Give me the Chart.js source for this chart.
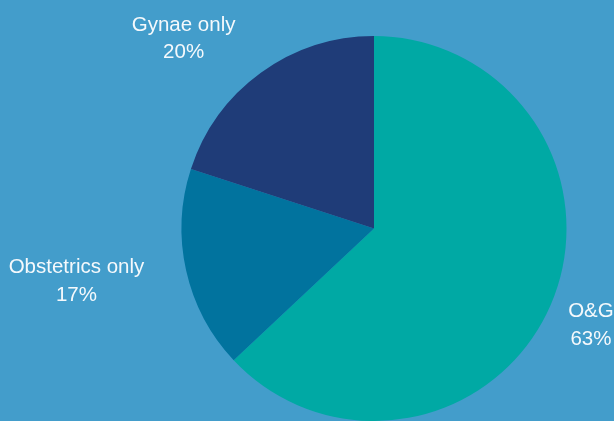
<!DOCTYPE html>
<html>
<head>
<meta charset="utf-8">
<script src="https://cdn.jsdelivr.net/npm/chart.js@4.4.1/dist/chart.umd.min.js"></script>
<style>
  html, body { margin: 0; padding: 0; background: #439dcb; }
  #wrap { width: 614px; height: 421px; overflow: hidden; }
</style>
</head>
<body>
<div id="wrap"><canvas id="ch-pie" width="614" height="421"></canvas></div>
<script>
'use strict';

// data
const labels = ['O&G', 'Obstetrics only', 'Gynae only'];
const shares = [63, 17, 20];
const pctLabels = ['63%', '17%', '20%'];
const colours = ['#00a9a4', '#01739e', '#1f3c78'];

// labels sit outside the slices, pushed off the arc along the mid angle
const outsideLabels = {
  id: 'outsideLabels',
  afterDatasetsDraw(chart, args, opts) {
    const ctx = chart.ctx;
    const meta = chart.getDatasetMeta(0);
    ctx.save();
    ctx.font = opts.font;
    ctx.fillStyle = opts.color;
    ctx.textAlign = 'center';
    ctx.textBaseline = 'alphabetic';
    meta.data.forEach((arc, i) => {
      const p = arc.getProps(['x', 'y', 'startAngle', 'endAngle', 'outerRadius'], true);
      const mid = (p.startAngle + p.endAngle) / 2;
      const dx = Math.cos(mid), dy = Math.sin(mid);
      const lines = [labels[i], pctLabels[i]];
      const w = Math.max(...lines.map(t => ctx.measureText(t).width));
      const h = opts.lineHeight * lines.length;
      const r = p.outerRadius + opts.gap;
      const nudge = opts.nudge[i] || [0, 0];
      const cx = p.x + dx * r + dx * w / 2 + nudge[0];
      const cy = p.y + dy * r + dy * h / 2 + nudge[1];
      lines.forEach((t, k) => {
        const yMid = cy + (k - (lines.length - 1) / 2) * opts.lineHeight;
        ctx.fillText(t, cx, yMid + opts.capHalf);
      });
    });
    ctx.restore();
  }
};

new Chart(document.getElementById('ch-pie'), {
  type: 'pie',
  data: {
    labels: labels,
    datasets: [{
      data: shares,
      backgroundColor: colours,
      borderWidth: 0,
      hoverOffset: 0
    }]
  },
  options: {
    responsive: false,
    animation: false,
    layout: { padding: { left: 181, right: 47, top: 36, bottom: -1 } },
    plugins: {
      legend: { display: false },
      tooltip: { enabled: false },
      outsideLabels: {
        font: "20.5px 'Liberation Sans', Arial, sans-serif",
        color: '#f5f9fc',
        lineHeight: 27.5,
        capHalf: 7.3,
        gap: 20,
        nudge: [[1, 0], [-24, -1], [-35, 3]]
      }
    }
  },
  plugins: [outsideLabels]
});
</script>
</body>
</html>
